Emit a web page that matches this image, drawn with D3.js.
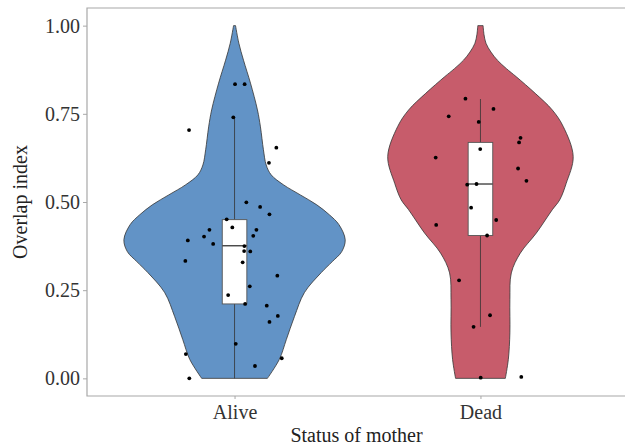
<!DOCTYPE html>
<html>
<head>
<meta charset="utf-8">
<script src="https://cdn.jsdelivr.net/npm/d3@7"></script>
<style>
  body { margin: 0; background: #fff; }
  svg { display: block; font-family: 'Liberation Serif', 'DejaVu Serif', serif; }
</style>
</head>
<body>
<div id="chart"></div>
<script>
const groups = ['Alive', 'Dead'];
const fills = ['#6293c6', '#c75c6b'];
const yTicks = [0, 0.25, 0.5, 0.75, 1];

// violin outline: value and half width (1 = widest)
const aliveVal = [1.0, 0.95, 0.902, 0.837, 0.761, 0.713, 0.648, 0.605, 0.577, 0.549, 0.52, 0.492, 0.464, 0.436, 0.393, 0.359, 0.331, 0.3, 0.243, 0.175, 0.11, 0.054, 0.0];
const aliveWid = [0.009, 0.039, 0.081, 0.144, 0.207, 0.234, 0.261, 0.286, 0.331, 0.441, 0.595, 0.743, 0.856, 0.943, 1.0, 0.968, 0.883, 0.784, 0.631, 0.541, 0.468, 0.405, 0.297];
const deadVal = [1.0, 0.975, 0.95, 0.925, 0.902, 0.878, 0.855, 0.808, 0.761, 0.714, 0.629, 0.553, 0.506, 0.478, 0.412, 0.355, 0.299, 0.223, 0.129, 0.054, 0.0];
const deadWid = [0.024, 0.032, 0.05, 0.095, 0.153, 0.235, 0.324, 0.495, 0.649, 0.748, 0.838, 0.775, 0.716, 0.649, 0.505, 0.36, 0.279, 0.266, 0.266, 0.252, 0.225];

// box stats: min whisker, q1, median, q3, max whisker
const aliveBox = [0, 0.211, 0.376, 0.45, 0.74];
const deadBox = [0.146, 0.405, 0.551, 0.669, 0.792];

// jittered points: value and horizontal jitter (fraction of category step)
const aliveY = [0.834, 0.834, 0.740, 0.704, 0.654, 0.611, 0.499, 0.486, 0.465, 0.451, 0.428, 0.421, 0.421, 0.402, 0.404, 0.391, 0.381, 0.375, 0.361, 0.360, 0.333, 0.329, 0.291, 0.261, 0.236, 0.211, 0.206, 0.177, 0.160, 0.098, 0.069, 0.057, 0.035, 0.000];
const aliveJit = [0.002, 0.041, -0.005, -0.185, 0.170, 0.140, 0.048, 0.104, 0.142, -0.032, -0.009, -0.102, 0.089, -0.124, 0.076, -0.190, -0.087, 0.040, 0.039, 0.064, -0.200, 0.033, 0.174, 0.062, -0.026, 0.043, 0.131, 0.176, 0.142, 0.005, -0.198, 0.192, 0.083, -0.184];
const deadY = [0.793, 0.764, 0.743, 0.727, 0.682, 0.669, 0.650, 0.626, 0.595, 0.560, 0.549, 0.551, 0.484, 0.449, 0.435, 0.405, 0.278, 0.179, 0.146, 0.002, 0.004];
const deadJit = [-0.061, 0.053, -0.129, -0.007, 0.163, 0.157, -0.001, -0.182, 0.153, 0.187, -0.054, -0.016, -0.038, 0.064, -0.180, 0.027, -0.087, 0.039, -0.028, 0.001, 0.166];

const W = 625, H = 447;
const margin = {top: 8, right: -3, bottom: 51, left: 87};
const innerW = W - margin.left - margin.right;
const innerH = H - margin.top - margin.bottom;

const svg = d3.select('#chart').append('svg')
  .attr('width', W)
  .attr('height', H);

const g = svg.append('g')
  .attr('transform', `translate(${margin.left},${margin.top})`);

const x = d3.scalePoint().domain(groups).range([0, innerW]).padding(0.6);
const y = d3.scaleLinear().domain([-0.05, 1.05]).range([innerH, 0]);
const step = x.step();
const wScale = d3.scaleLinear().domain([0, 1]).range([0, step * 0.45]);
const boxW = step * 0.1;

const series = [
  {name: 'Alive', vals: aliveVal, wid: aliveWid, box: aliveBox, py: aliveY, pj: aliveJit},
  {name: 'Dead', vals: deadVal, wid: deadWid, box: deadBox, py: deadY, pj: deadJit},
];

series.forEach((s, i) => {
  const cx = x(s.name);
  const prof = s.vals.map((v, k) => ({v: v, w: s.wid[k]}));

  const area = d3.area()
    .y((d) => y(d.v))
    .x0((d) => cx - wScale(d.w))
    .x1((d) => cx + wScale(d.w))
    .curve(d3.curveCatmullRom);

  g.append('path')
    .datum(prof)
    .attr('d', area)
    .attr('fill', fills[i])
    .attr('stroke', '#333')
    .attr('stroke-width', 0.8);

  // whiskers
  g.append('line')
    .attr('x1', cx).attr('x2', cx)
    .attr('y1', y(s.box[0])).attr('y2', y(s.box[4]))
    .attr('stroke', '#333')
    .attr('stroke-width', 0.8);

  // box
  g.append('rect')
    .attr('x', cx - boxW / 2)
    .attr('y', y(s.box[3]))
    .attr('width', boxW)
    .attr('height', y(s.box[1]) - y(s.box[3]))
    .attr('fill', '#fff')
    .attr('stroke', '#555')
    .attr('stroke-width', 0.9);

  g.append('line')
    .attr('x1', cx - boxW / 2).attr('x2', cx + boxW / 2)
    .attr('y1', y(s.box[2])).attr('y2', y(s.box[2]))
    .attr('stroke', '#444')
    .attr('stroke-width', 1.4);

  // points
  g.selectAll(`.pt-${i}`)
    .data(s.py.map((v, k) => ({v: v, j: s.pj[k]})))
    .join('circle')
    .attr('class', `pt-${i}`)
    .attr('cx', (d) => cx + d.j * step)
    .attr('cy', (d) => y(d.v))
    .attr('r', 1.9)
    .attr('fill', '#000');
});

// panel frame (top, left, bottom)
g.append('path')
  .attr('d', `M${innerW},0H0V${innerH}H${innerW}`)
  .attr('fill', 'none')
  .attr('stroke', '#a8a8a8')
  .attr('stroke-width', 1.2);

// y axis
const yAxis = g.append('g')
  .call(d3.axisLeft(y).tickValues(yTicks).tickFormat(d3.format('.2f')).tickSize(4).tickPadding(3));
yAxis.select('.domain').remove();
yAxis.selectAll('line').attr('stroke', '#a8a8a8');
yAxis.selectAll('text')
  .attr('fill', '#333')
  .style('font-family', "'Liberation Serif', serif")
  .style('font-size', '20px');

// x axis
const xAxis = g.append('g')
  .attr('transform', `translate(0,${innerH})`)
  .call(d3.axisBottom(x).tickSize(3).tickPadding(6));
xAxis.select('.domain').remove();
xAxis.selectAll('line').attr('stroke', '#a8a8a8');
xAxis.selectAll('text')
  .attr('fill', '#333')
  .style('font-family', "'Liberation Serif', serif")
  .style('font-size', '20px');

// axis titles
svg.append('text')
  .attr('x', margin.left + innerW / 2 - 1)
  .attr('y', 442)
  .attr('text-anchor', 'middle')
  .style('font-size', '20px')
  .attr('fill', '#222')
  .text('Status of mother');

svg.append('text')
  .attr('transform', `translate(27,${margin.top + innerH / 2}) rotate(-90)`)
  .attr('text-anchor', 'middle')
  .style('font-size', '20px')
  .attr('fill', '#222')
  .text('Overlap index');
</script>
</body>
</html>
